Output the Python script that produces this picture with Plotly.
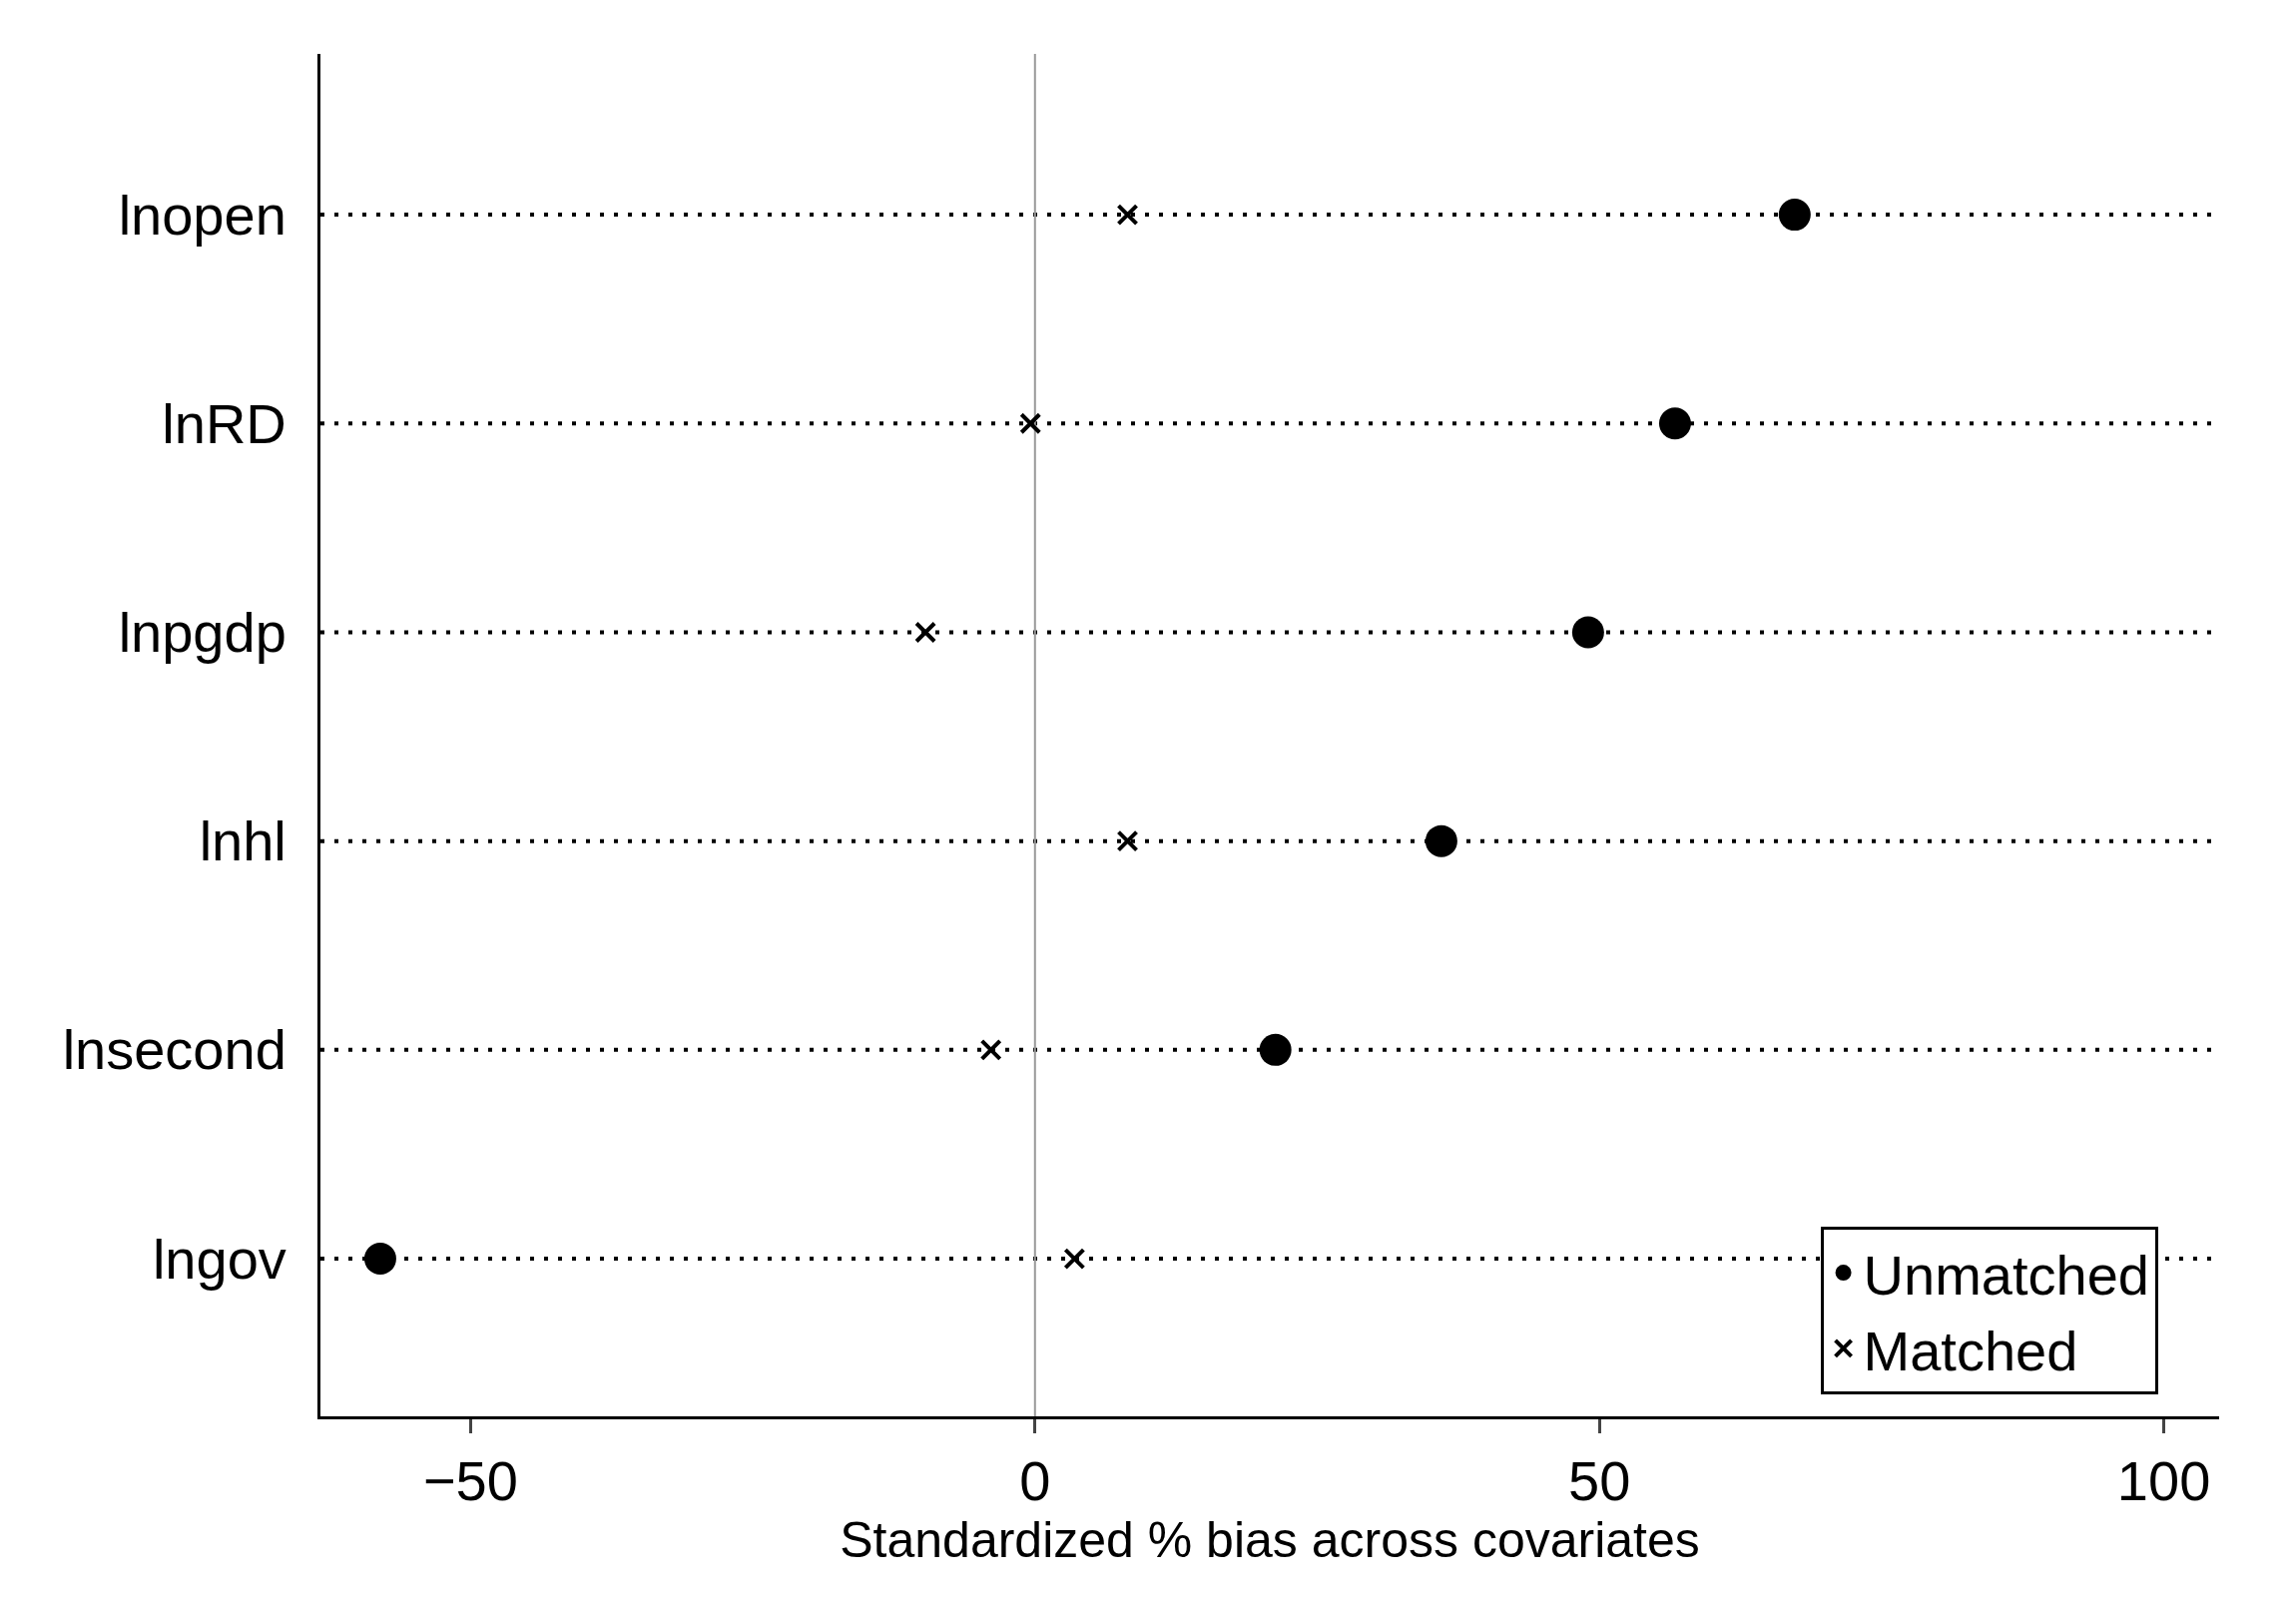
import plotly.graph_objects as go

covariates = ["lngov", "lnsecond", "lnhl", "lnpgdp", "lnRD", "lnopen"]
unmatched = [-58, 21.3, 36, 49, 56.7, 67.3]
matched = [3.5, -3.9, 8.2, -9.7, -0.4, 8.2]
xticks = [-50, 0, 50, 100]
xticklabels = ["\u221250", "0", "50", "100"]

pos = list(range(1, len(covariates) + 1))
fig = go.Figure()
for p in pos:
    fig.add_shape(type="line", xref="paper", x0=0, x1=1, y0=p, y1=p,
                  line=dict(color="black", width=4, dash="4px,10px"), layer="below")
fig.add_shape(type="line", x0=0, x1=0, yref="paper", y0=0, y1=1,
              line=dict(color="#999999", width=2), layer="below")
fig.add_trace(go.Scatter(x=unmatched, y=pos, mode="markers", name="Unmatched",
                         marker=dict(symbol="circle", size=32, color="black")))
fig.add_trace(go.Scatter(x=matched, y=pos, mode="markers", name="Matched",
                         marker=dict(symbol="x-thin", size=18, color="black",
                                     line=dict(width=4, color="black"))))
fig.update_layout(
    width=2300, height=1602, plot_bgcolor="white", paper_bgcolor="white",
    margin=dict(l=313, r=85, t=46, b=191),
    font=dict(family="Liberation Sans, Arial", size=56, color="black"),
    xaxis=dict(range=[-63.3, 104.9], tickvals=xticks, ticktext=xticklabels,
               showgrid=False, zeroline=False, showline=True, linecolor="black",
               linewidth=3, ticks="outside", ticklen=14, tickwidth=3,
               title=dict(text="Standardized % bias across covariates", standoff=2,
                          font=dict(size=50))),
    yaxis=dict(range=[0.245, 6.77], tickvals=pos, ticktext=covariates,
               showgrid=False, zeroline=False, showline=True, linecolor="black",
               linewidth=3, ticks="", ticklabelstandoff=20),
    legend=dict(x=0.79, y=0.016, xanchor="left", yanchor="bottom",
                bordercolor="black", borderwidth=3, bgcolor="white",
                font=dict(size=56), tracegroupgap=10),
)
fig.write_html("out.html")
